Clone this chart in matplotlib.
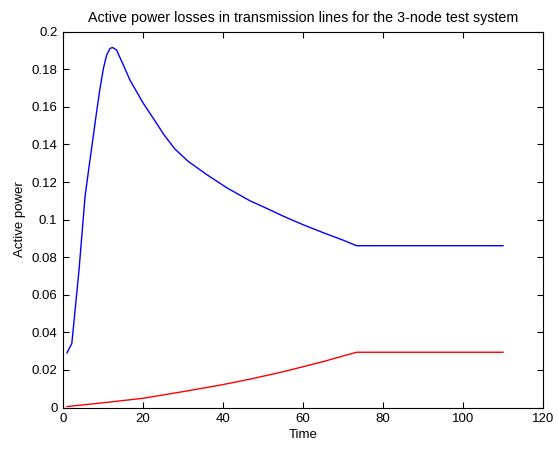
import matplotlib
matplotlib.use("Agg")
import matplotlib.pyplot as plt

plt.rcParams['font.family'] = ['Liberation Sans', 'DejaVu Sans']

title = "Active power losses in transmission lines for the 3-node test system"
xlabel = "Time"
ylabel = "Active power"

t_blue = [1, 2.2, 4, 5.5, 6.5, 7.6, 8.4, 9.25, 10.1, 10.9, 11.75, 12.4, 13.4,
          15.1, 16.75, 20.1, 22.6, 25.3, 28, 31.3, 35.9, 40.9, 46.75, 50.9,
          55.1, 60.1, 65.1, 70.1, 73.4, 110]
p_blue = [0.0291, 0.034, 0.073, 0.112, 0.128, 0.1449, 0.1573, 0.1698, 0.1804,
          0.1875, 0.1911, 0.1916, 0.1902, 0.1822, 0.1742, 0.1618, 0.1538,
          0.1450, 0.1375, 0.1310, 0.1240, 0.1170, 0.1100, 0.1060, 0.1018,
          0.0972, 0.0930, 0.0890, 0.0861, 0.0861]

t_red = [1, 10, 20, 31, 40, 47, 55, 60, 65, 70, 73.4, 110]
p_red = [0.0005, 0.0025, 0.0049, 0.0088, 0.0122, 0.0152, 0.019, 0.0217,
         0.0244, 0.0274, 0.0294, 0.0294]

xticks = [0, 20, 40, 60, 80, 100, 120]
yticks = [0, 0.02, 0.04, 0.06, 0.08, 0.1, 0.12, 0.14, 0.16, 0.18, 0.2]
yticklabels = ["0", "0.02", "0.04", "0.06", "0.08", "0.1", "0.12", "0.14", "0.16", "0.18", "0.2"]

fig = plt.figure(figsize=(5.58, 4.49), dpi=100)
ax = fig.add_axes([63/558, 1 - 407.5/449, 480/558, 375.8/449])
ax.plot(t_blue, p_blue, color=(0, 0, 1), lw=1)
ax.plot(t_red, p_red, color=(1, 0, 0), lw=1)
ax.set_xlim(0, 120)
ax.set_ylim(0, 0.2)
ax.set_xticks(xticks)
ax.set_yticks(yticks)
ax.set_yticklabels(yticklabels)
ax.tick_params(direction='in', length=4, width=0.8, labelsize=9.5, top=True, right=True, pad=4)
for s in ax.spines.values():
    s.set_linewidth(0.8)
ax.set_title(title, fontsize=10.3, pad=7)
ax.set_xlabel(xlabel, fontsize=9.5, labelpad=3)
ax.set_ylabel(ylabel, fontsize=9.5, labelpad=4)
fig.savefig("out.png", dpi=100)
